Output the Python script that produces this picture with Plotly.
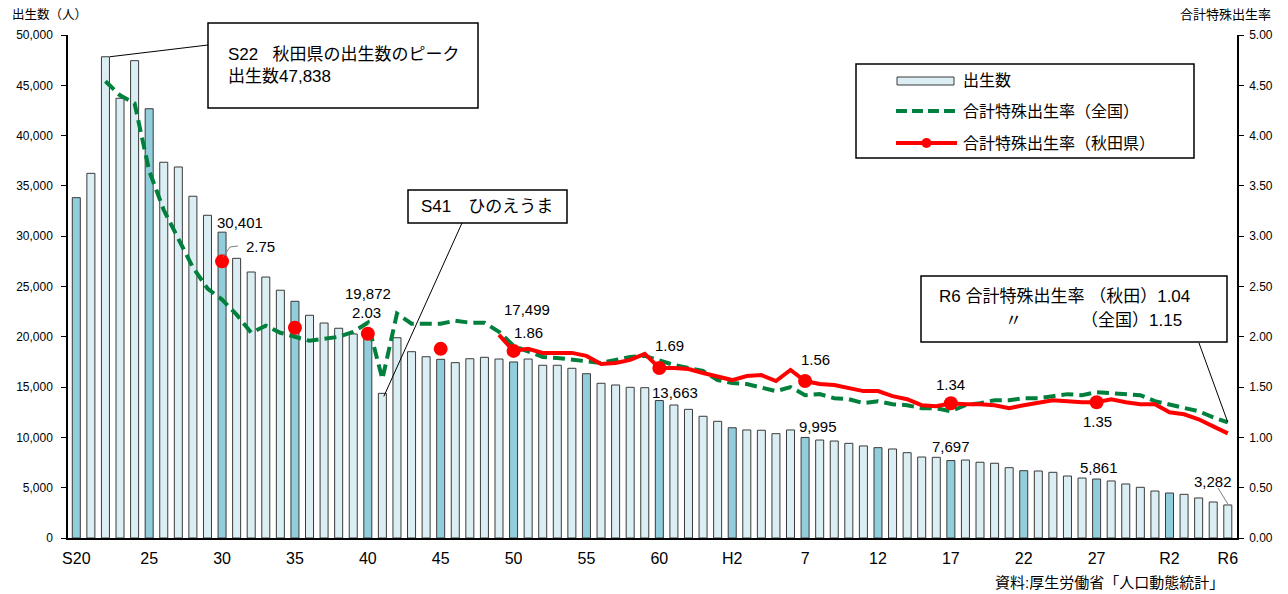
import plotly.graph_objects as go

# ---------------- data ----------------
# 80 years: S20 (1945) ... R6 (2024)
tick_idx = [0, 5, 10, 15, 20, 25, 30, 35, 40, 45, 50, 55, 60, 65, 70, 75, 79]
tick_text = ["S20", "25", "30", "35", "40", "45", "50", "55", "60", "H2",
             "7", "12", "17", "22", "27", "R2", "R6"]

births = [33830, 36250, 47838, 43710, 47450, 42670, 37350, 36880, 33970, 32080,
          30401, 27800, 26440, 25940, 24630, 23530, 22140, 21370, 20850, 20280,
          19872, 14380, 19910, 18520, 18020, 17760, 17430, 17820, 17960, 17790,
          17499, 17790, 17170, 17170, 16870, 16330, 15380, 15210, 14980, 14940,
          13663, 13220, 12790, 12100, 11600, 10960, 10740, 10710, 10370, 10740,
          9995, 9740, 9640, 9410, 9150, 8980, 8850, 8480, 8050, 8020,
          7697, 7750, 7530, 7430, 6990, 6690, 6660, 6530, 6160, 5960,
          5861, 5670, 5370, 5040, 4670, 4470, 4340, 3980, 3580, 3282]

highlight_idx = [0, 5, 10, 15, 20, 25, 30, 35, 40, 45, 50, 55, 60, 65, 70, 75]

tfr_japan = [None, None, 4.54, 4.40, 4.32, 3.65, 3.26, 2.98, 2.69, 2.48,
             2.37, 2.22, 2.04, 2.11, 2.04, 2.00, 1.96, 1.98, 2.00, 2.05,
             2.14, 1.58, 2.23, 2.13, 2.13, 2.13, 2.16, 2.14, 2.14, 2.05,
             1.91, 1.85, 1.80, 1.79, 1.77, 1.75, 1.74, 1.77, 1.80, 1.81,
             1.76, 1.72, 1.69, 1.66, 1.57, 1.54, 1.53, 1.50, 1.46, 1.50,
             1.42, 1.43, 1.39, 1.38, 1.34, 1.36, 1.33, 1.32, 1.29, 1.29,
             1.26, 1.32, 1.34, 1.37, 1.37, 1.39, 1.39, 1.41, 1.43, 1.42,
             1.45, 1.44, 1.43, 1.42, 1.36, 1.33, 1.30, 1.26, 1.20, 1.15]

tfr_akita = [None, None, None, None, None, None, None, None, None, None,
             2.75, None, None, None, None, 2.09, None, None, None, None,
             2.03, None, None, None, None, 1.88, None, None, None, 2.02,
             1.86, 1.88, 1.84, 1.84, 1.84, 1.81, 1.73, 1.74, 1.77, 1.83,
             1.69, 1.69, 1.68, 1.64, 1.60, 1.57, 1.61, 1.62, 1.56, 1.67,
             1.56, 1.53, 1.52, 1.49, 1.46, 1.46, 1.41, 1.38, 1.32, 1.31,
             1.34, 1.33, 1.33, 1.32, 1.29, 1.32, 1.35, 1.37, 1.36, 1.35,
             1.35, 1.38, 1.35, 1.33, 1.33, 1.25, 1.23, 1.18, 1.11, 1.04]

akita_marker_idx = [10, 15, 20, 25, 30, 40, 50, 60, 70]

# label placement: (index, dx, dy) in pixels
birth_labels = [(10, 18, 10), (20, 0, 45), (30, 13, 52), (40, 16, 8),
                (50, 13, 11), (60, 0, 14), (70, 2, 12), (79, -15, 23)]
tfr_labels = [(10, 38, 15), (20, -1, 21), (30, 15, 18), (40, 10, 22),
              (50, 10, 22), (60, 0, 19), (70, 1, -19)]

# ---------------- geometry ----------------
L, T, W, H = 68, 35, 1169, 503
FIG_W, FIG_H = 1288, 594
X0 = -0.569
X1 = X0 + W / 14.576
YMAX = 50000
Y2MAX = 5.0

FONT = "Liberation Sans, Arial, Noto Sans CJK JP, sans-serif"
LIGHT = "#DAEEF3"
DARK = "#92CDDC"
EDGE = "#3a3a3a"
GREEN = "#00803C"
RED = "#FF0000"


def pxp(px):
    return (px - L) / W


def pyp(py):
    return (T + H - py) / H


def dx_(px):
    return X0 + (px - L) / W * (X1 - X0)


def dy_(py):
    return (T + H - py) / H * YMAX


xs = list(range(len(births)))
light_vals = [None if i in highlight_idx else v for i, v in enumerate(births)]
dark_vals = [v if i in highlight_idx else None for i, v in enumerate(births)]
marker_sizes = [14 if i in akita_marker_idx else 0 for i in xs]

fig = go.Figure()
fig.add_trace(go.Bar(x=xs, y=light_vals, width=0.55, name="出生数",
                     marker=dict(color=LIGHT, line=dict(color=EDGE, width=1)),
                     showlegend=False))
fig.add_trace(go.Bar(x=xs, y=dark_vals, width=0.55, name="出生数",
                     marker=dict(color=DARK, line=dict(color=EDGE, width=1)),
                     showlegend=False))
fig.add_trace(go.Scatter(x=xs, y=tfr_japan, yaxis="y2", mode="lines",
                         name="合計特殊出生率（全国）",
                         line=dict(color=GREEN, width=4, dash="12px,6px"),
                         showlegend=False))
fig.add_trace(go.Scatter(x=xs, y=tfr_akita, yaxis="y2", mode="lines+markers",
                         name="合計特殊出生率（秋田県）", connectgaps=False,
                         line=dict(color=RED, width=4),
                         marker=dict(color=RED, size=marker_sizes, opacity=1,
                                     line=dict(width=0)),
                         showlegend=False))

shapes = []
annotations = []


def text(px, py, s, size, xanchor="center", color="#000"):
    annotations.append(dict(xref="paper", yref="paper", x=pxp(px), y=pyp(py),
                            text=s, showarrow=False, xanchor=xanchor,
                            yanchor="middle", font=dict(size=size, color=color,
                                                        family=FONT)))


def box(x0, y0, x1, y1, width=1.5):
    shapes.append(dict(type="rect", xref="paper", yref="paper",
                       x0=pxp(x0), x1=pxp(x1), y0=pyp(y1), y1=pyp(y0),
                       line=dict(color="#000", width=width), fillcolor="white",
                       layer="above"))


# data labels
for i, ddx, ddy in birth_labels:
    annotations.append(dict(x=i, y=births[i], xref="x", yref="y",
                            text=f"{births[i]:,}", showarrow=False,
                            xshift=ddx, yshift=ddy, font=dict(size=15, color="#000", family=FONT)))
for i, ddx, ddy in tfr_labels:
    annotations.append(dict(x=i, y=tfr_akita[i], xref="x", yref="y2",
                            text=f"{tfr_akita[i]:.2f}", showarrow=False,
                            xshift=ddx, yshift=ddy, font=dict(size=15, color="#000", family=FONT)))

# small leader lines
shapes.append(dict(type="path", xref="paper", yref="paper",
                   path=f"M{pxp(223)},{pyp(257)} L{pxp(230)},{pyp(247)} L{pxp(238)},{pyp(246)}",
                   line=dict(color="#808080", width=1), layer="above"))
shapes.append(dict(type="line", xref="x", yref="y",
                   x0=dx_(1218), y0=dy_(488), x1=79, y1=births[79] + 100,
                   line=dict(color="#808080", width=1), layer="above"))

# box 1: peak
box(208, 23, 478, 108)
shapes.append(dict(type="line", xref="x", yref="y",
                   x0=dx_(208), y0=dy_(45), x1=2 + 0.3, y1=births[2],
                   line=dict(color="#000", width=1), layer="above"))
text(226, 54, "S22&nbsp;&nbsp;&nbsp;秋田県の出生数のピーク", 17, "left")
text(226, 77, "出生数47,838", 17, "left")

# box 2: hinoeuma
box(408, 190, 567, 223)
shapes.append(dict(type="line", xref="x", yref="y",
                   x0=dx_(462), y0=dy_(223), x1=21 + 0.1, y1=births[21] - 300,
                   line=dict(color="#000", width=1), layer="above"))
text(487, 206, "S41　ひのえうま", 17)

# box 3: R6
box(921, 276, 1227, 342)
shapes.append(dict(type="line", xref="x", yref="y2",
                   x0=dx_(1199), y0=(T + H - 343) / H * Y2MAX, x1=79, y1=tfr_japan[79],
                   line=dict(color="#000", width=1), layer="above"))
text(937, 296, "R6 合計特殊出生率 （秋田）1.04", 17, "left")
text(1013, 320, "〃", 17)
text(1184, 320, "（全国）1.15", 17, "right")

# manual legend
box(856, 64, 1194, 158)
shapes.append(dict(type="rect", xref="paper", yref="paper",
                   x0=pxp(897), x1=pxp(954), y0=pyp(85), y1=pyp(77),
                   fillcolor=LIGHT, line=dict(color=EDGE, width=1), layer="above"))
shapes.append(dict(type="line", xref="paper", yref="paper",
                   x0=pxp(896), x1=pxp(956), y0=pyp(111), y1=pyp(111),
                   line=dict(color=GREEN, width=4, dash="11px,5px"), layer="above"))
shapes.append(dict(type="line", xref="paper", yref="paper",
                   x0=pxp(896), x1=pxp(957), y0=pyp(143), y1=pyp(143),
                   line=dict(color=RED, width=4), layer="above"))
shapes.append(dict(type="circle", xref="paper", yref="paper",
                   x0=pxp(921.5), x1=pxp(931.5), y0=pyp(148), y1=pyp(138),
                   fillcolor=RED, line=dict(color=RED, width=0), layer="above"))
text(961, 81, "出生数", 16, "left")
text(961, 111, "合計特殊出生率（全国）", 16, "left")
text(961, 143, "合計特殊出生率（秋田県）", 16, "left")

# axis titles & source
text(10, 14, "出生数（人）", 12.5, "left")
text(1273, 15, "合計特殊出生率", 13, "right")
text(1226, 582, "資料:厚生労働省「人口動態統計」", 15, "right")

fig.update_layout(
    width=FIG_W, height=FIG_H,
    margin=dict(l=L, r=FIG_W - L - W, t=T, b=FIG_H - T - H),
    paper_bgcolor="white", plot_bgcolor="white",
    barmode="overlay", showlegend=False,
    font=dict(family=FONT, color="#000"),
    shapes=shapes, annotations=annotations,
    xaxis=dict(range=[X0, X1], tickmode="array", tickvals=tick_idx, ticktext=tick_text,
               ticks="outside", ticklen=5, tickcolor="rgba(0,0,0,0)",
               tickfont=dict(size=16, color="#000"), showgrid=False, zeroline=False,
               showline=True, linecolor="#000", linewidth=1.5),
    yaxis=dict(range=[0, YMAX], dtick=5000, tickformat=",d", ticks="outside", ticklen=5,
               tickcolor="#000", tickfont=dict(size=12, color="#000"), showgrid=False,
               zeroline=False, showline=True, linecolor="#000", linewidth=1.5,
               ticklabelstandoff=6),
    yaxis2=dict(range=[0, Y2MAX], dtick=0.5, tickformat=".2f", overlaying="y", side="right",
                ticks="outside", ticklen=5, tickcolor="#000",
                tickfont=dict(size=12, color="#000"), showgrid=False, zeroline=False,
                showline=True, linecolor="#000", linewidth=1.5, ticklabelstandoff=3),
)

fig.write_html("out.html", config={"displayModeBar": False},
               post_script="document.body.style.margin='0';document.body.style.overflow='hidden';")
